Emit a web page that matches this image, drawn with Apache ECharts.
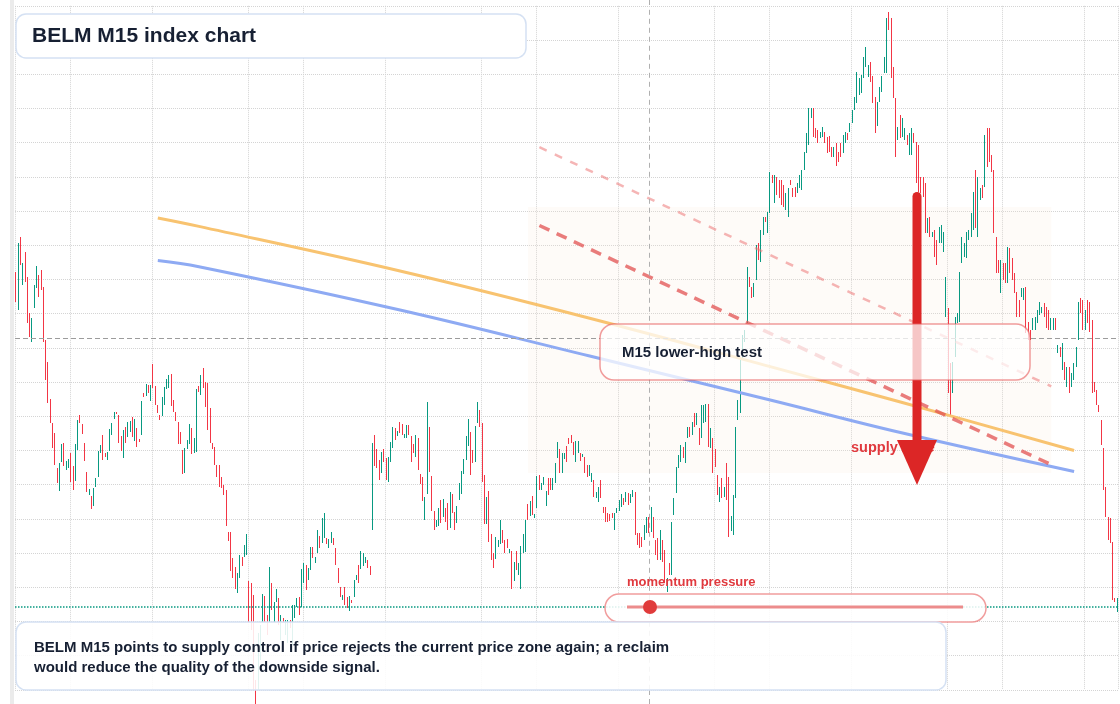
<!DOCTYPE html>
<html><head><meta charset="utf-8">
<script src="https://cdn.jsdelivr.net/npm/echarts@6/dist/echarts.min.js"></script>
<style>html,body{margin:0;padding:0;background:#fff}#chart{width:1120px;height:704px}</style>
</head><body><div id="chart"></div>
<script>
// BELM M15 bars: open / close (wicks coincide with bodies at this zoom)
const opens = [
79.4,75.6,82.9,78.1,81.4,78.9,75.3,72.4,75.8,77.8,
79.1,79.6,77.9,72.6,70.4,66.7,64.3,63.3,59.8,57.5,
60.4,62.3,59.6,59.8,61.3,60.0,58.5,61.6,65.1,64.2,
62.3,59.4,57.1,57.0,56.0,57.9,58.9,61.3,63.1,61.3,
60.6,61.5,63.1,64.7,65.4,65.1,63.0,60.8,63.9,62.9,
63.4,64.9,62.5,63.8,62.7,63.1,67.3,67.0,68.1,66.5,
70.2,68.0,66.1,65.1,65.0,66.1,67.7,67.8,69.2,66.6,
65.4,64.4,63.4,61.6,59.3,61.7,62.2,63.8,61.3,61.4,
68.0,67.1,69.8,68.4,68.3,65.8,62.3,61.9,60.1,60.1,
58.9,58.1,57.6,53.4,53.4,50.8,49.9,47.3,48.8,50.9,
50.9,51.1,48.5,48.3,47.1,38.6,37.6,40.6,44.4,47.0,
45.1,44.4,48.3,44.4,46.4,46.8,42.6,44.8,43.1,42.3,
44.6,42.1,44.8,45.9,46.9,45.9,48.3,50.1,48.6,49.6,
51.9,50.3,51.3,53.0,52.3,52.8,52.8,51.8,52.3,52.8,
51.8,49.8,47.9,46.6,47.9,46.9,45.5,46.6,46.9,48.6,
50.1,49.7,50.0,50.3,50.6,50.0,53.6,63.1,61.7,60.6,
59.3,61.7,60.8,58.4,60.4,61.8,63.8,63.0,64.4,64.2,
62.8,62.8,64.1,63.0,62.2,60.9,62.8,59.2,58.9,54.6,
57.2,63.9,59.0,55.5,53.9,54.0,56.6,54.9,55.8,56.3,
53.8,57.2,55.4,54.3,56.6,57.2,59.2,60.6,62.0,63.4,
61.6,60.4,64.3,65.6,64.3,59.1,54.2,57.5,53.2,51.3,
50.7,51.9,52.2,53.6,52.6,52.7,51.3,51.5,48.5,51.5,
49.1,47.7,51.3,51.4,56.2,55.0,57.0,54.8,55.8,59.1,
57.6,58.1,56.0,58.8,58.8,57.6,58.3,60.8,61.7,59.3,
60.7,62.0,62.8,63.1,62.4,60.4,61.3,61.3,60.9,60.9,
60.1,59.0,58.4,58.6,56.8,56.4,58.6,55.9,55.9,55.3,
55.2,55.3,53.6,55.3,55.5,55.9,56.8,56.4,57.3,56.3,
56.9,57.4,53.3,53.3,52.9,52.6,53.3,54.9,53.4,54.9,
52.6,52.8,50.6,52.6,51.6,47.4,50.3,49.1,55.1,57.3,
59.8,60.4,61.9,60.3,62.8,63.9,63.1,65.3,64.1,63.8,
62.8,64.3,64.4,66.2,61.8,62.8,61.7,59.1,56.4,58.8,
56.9,60.3,58.9,53.5,53.1,56.8,64.6,65.3,70.6,72.4,
74.3,78.9,77.9,76.9,78.6,82.3,80.4,83.1,84.9,83.3,
85.3,89.1,86.3,88.9,88.6,88.6,88.1,85.6,84.9,88.6,
87.8,87.9,87.3,87.8,87.6,89.6,91.3,92.1,94.8,95.8,
93.8,93.6,92.8,92.9,93.4,92.9,93.0,91.9,90.9,92.3,
91.4,92.3,91.3,92.3,93.3,93.4,94.3,95.6,96.3,97.1,
97.3,98.8,99.9,98.9,100.4,99.0,96.9,94.0,96.4,97.4,
99.3,99.3,105.4,104.8,99.9,96.8,92.6,95.1,92.9,92.6,
93.1,91.1,91.1,93.3,92.4,92.1,88.9,88.9,88.3,83.3,
84.9,82.9,83.6,82.6,82.3,82.3,81.4,74.9,75.8,70.3,
67.3,70.9,74.3,74.4,80.3,80.9,80.8,82.6,82.9,83.6,
89.6,82.9,86.6,88.1,87.9,93.8,93.8,91.1,89.6,82.9,
80.6,77.3,80.3,80.3,78.3,81.8,80.8,79.3,77.4,76.6,
76.9,76.6,77.9,74.4,73.6,73.6,73.6,74.3,75.1,75.3,
76.3,75.9,75.6,73.6,73.6,74.8,71.3,71.9,69.6,70.4,
67.9,69.9,67.9,68.6,69.9,72.6,76.8,76.6,73.6,76.6,
76.4,74.6,68.4,67.6,66.1,64.6,61.8,57.9,54.9,54.8,
52.4,46.8,45.4
];
const closes = [
76.4,82.3,80.1,80.3,78.4,74.3,72.9,74.8,78.1,80.0,
76.9,77.6,72.4,68.6,66.3,64.3,61.8,60.1,58.3,60.3,
62.2,60.0,60.5,60.7,58.4,57.6,62.2,64.6,64.3,63.2,
60.5,57.4,57.7,55.7,57.8,58.8,61.5,62.1,60.6,60.9,
61.4,63.7,64.3,65.4,65.2,62.3,61.5,63.6,62.3,64.4,
64.5,62.9,64.7,61.9,62.4,66.5,66.9,68.2,67.3,68.1,
67.8,66.1,65.3,64.6,66.9,67.9,68.7,69.1,66.0,65.4,
64.5,62.2,62.2,59.2,61.8,62.6,64.2,61.2,62.8,67.7,
67.4,69.1,67.8,65.9,63.6,62.3,61.7,60.1,58.9,57.9,
57.8,57.1,54.0,52.5,49.5,48.8,47.7,49.3,51.1,50.0,
52.1,53.2,44.3,43.6,37.6,36.2,43.3,44.1,47.2,44.4,
43.1,49.9,45.6,46.4,47.7,44.1,45.1,44.4,44.6,44.6,
43.8,46.1,46.1,46.8,45.1,49.7,50.3,47.6,49.8,51.9,
50.8,50.9,53.6,51.8,54.8,55.3,52.2,52.7,53.4,52.1,
50.1,48.3,46.9,47.1,46.1,45.8,47.0,46.3,48.6,49.1,
48.3,51.5,51.3,50.9,49.8,49.1,62.3,60.0,59.8,58.6,
61.4,60.4,58.6,60.9,62.4,63.9,62.6,63.5,63.3,63.1,
63.2,64.1,63.1,60.4,61.3,63.1,59.6,58.2,56.5,56.9,
66.4,59.4,55.5,53.6,54.6,55.8,54.3,56.7,54.4,53.6,
57.4,55.3,53.6,56.0,58.3,59.5,60.7,63.0,64.7,59.1,
60.3,64.0,66.4,63.9,58.4,54.2,56.9,52.4,50.6,49.8,
52.9,52.6,54.6,52.3,51.3,51.8,51.7,47.7,50.4,49.6,
50.3,52.0,53.2,54.6,54.6,56.5,55.1,55.2,59.0,57.6,
58.3,58.9,57.5,57.1,57.6,58.8,60.3,62.4,59.3,61.3,
61.3,60.4,62.2,62.3,61.1,62.5,62.5,60.5,61.2,59.3,
58.9,60.1,59.3,56.9,57.4,57.9,56.8,55.3,54.4,54.4,
54.5,54.8,55.3,55.8,56.6,57.2,56.1,57.4,56.1,57.2,
57.6,53.1,52.1,51.8,51.9,54.1,54.9,53.3,55.9,52.8,
51.1,50.6,53.6,50.4,48.3,48.8,49.1,54.4,56.8,59.9,
61.1,62.1,60.8,62.4,63.9,62.9,64.4,63.9,65.3,62.1,
66.1,66.1,66.2,61.9,63.8,59.3,59.9,57.1,57.9,56.8,
57.9,56.6,52.9,55.0,57.1,63.9,66.6,70.6,73.1,73.6,
79.9,77.9,76.8,78.3,82.1,80.6,83.6,84.9,84.4,85.4,
89.4,88.3,89.1,87.1,86.8,86.1,85.9,87.3,87.8,88.1,
86.9,86.9,88.3,89.1,89.6,91.4,93.3,95.8,95.8,92.9,
92.8,92.3,93.4,93.9,92.3,91.3,91.4,90.9,91.9,90.0,
90.4,90.9,93.1,93.4,92.6,94.3,95.6,96.9,99.4,98.8,
99.1,100.9,101.9,100.1,98.4,96.3,93.3,96.4,97.9,99.0,
100.9,104.8,103.6,98.8,96.8,90.9,93.9,92.8,94.8,93.8,
92.1,93.3,93.8,92.3,88.3,87.4,87.3,86.9,83.3,84.8,
82.9,83.4,80.9,80.1,83.9,84.1,83.4,78.9,67.3,64.9,
70.4,74.9,75.3,79.4,82.9,82.3,83.4,83.6,85.3,87.4,
83.8,88.9,87.8,86.8,93.1,89.9,90.4,89.4,83.3,79.3,
79.3,80.6,78.6,78.3,81.9,79.3,78.6,77.3,74.9,74.9,
77.8,77.8,73.3,72.6,72.6,74.8,74.9,75.6,76.4,75.9,
74.9,73.8,73.6,74.8,74.8,73.6,72.1,70.9,72.3,68.6,
69.9,67.3,69.3,70.3,71.9,76.4,75.3,73.6,75.6,74.3,
73.4,67.3,67.4,66.1,65.4,62.1,57.6,54.9,52.6,52.3,
46.6,46.4,46.8
];
// session boundaries (bar index where a new session starts)
const sessionBreaks = [0,24,60,102,126,162,204,228,264,306,330,366,408,432,468];
const refLevel = 72.75;      // grey dashed level
const lastLevel = 45.95;     // teal dotted level
const markerBar = 277;       // dashed vertical marker
const orangeCurve = [[62,84.8],[80,83.96],[168,79.5],[251,74.78],[330,69.94],[387,66.4],[463,61.55]];
const blueCurve   = [[62,80.55],[80,79.93],[168,75.6],[251,71.0],[330,66.6],[387,63.35],[463,59.45]];
const upperTrend  = [[229,91.88],[453,67.96]];
const lowerTrend  = [[229,84.05],[453,60.13]];
const zoneArea    = [[224,85.9],[453,59.3]];
const priceMin = 37.62, priceMax = 106.02, priceStep = 3.42;

const categories = opens.map((_, i) => String(i));
const candles = opens.map((o, i) => [o, closes[i], Math.min(o, closes[i]), Math.max(o, closes[i])]);

const chart = echarts.init(document.getElementById('chart'), null, {renderer: 'canvas'});
const FONT = '"Liberation Sans", Arial, sans-serif';
const dark = '#172033';

chart.setOption({
  animation: false,
  backgroundColor: '#ffffff',
  grid: {left: 15, top: 5.8, width: 483 * 2.285, height: 684},
  xAxis: {
    type: 'category', data: categories, boundaryGap: true,
    axisLine: {show: false}, axisTick: {show: false}, axisLabel: {show: false},
    splitLine: {show: true, interval: (idx) => sessionBreaks.indexOf(idx) >= 0,
      lineStyle: {type: 'dotted', color: '#d4d4d4', width: 1}}
  },
  yAxis: {
    type: 'value', min: priceMin, max: priceMax, interval: priceStep, scale: true,
    axisLine: {show: false}, axisTick: {show: false}, axisLabel: {show: false},
    splitLine: {show: true, lineStyle: {type: 'dotted', color: '#d4d4d4', width: 1}}
  },
  series: [
    {
      type: 'line', data: [], silent: true, z: 1,
      markArea: {silent: true, itemStyle: {color: 'rgba(246,230,214,0.16)'},
        data: [[{xAxis: zoneArea[0][0], yAxis: zoneArea[0][1]}, {xAxis: zoneArea[1][0], yAxis: zoneArea[1][1]}]]}
    },
    {
      type: 'candlestick', data: candles, barWidth: 0.5, z: 2, clip: false,
      itemStyle: {color: '#089981', color0: '#f23645', borderColor: '#089981', borderColor0: '#f23645', borderWidth: 1},
      markLine: {
        silent: true, symbol: 'none', label: {show: false},
        data: [
          {yAxis: refLevel, lineStyle: {type: [5, 3], color: '#9c9c9c', width: 1}},
          {yAxis: lastLevel, lineStyle: {type: 'dotted', color: '#089981', width: 1.5}},
          {xAxis: markerBar, lineStyle: {type: [5, 4], color: '#b0b0b0', width: 1}}
        ]
      }
    },
    {type: 'line', data: orangeCurve, smooth: 0.4, symbol: 'none', z: 3, silent: true,
      lineStyle: {color: '#f8c370', width: 3}},
    {type: 'line', data: blueCurve, smooth: 0.4, symbol: 'none', z: 3, silent: true,
      lineStyle: {color: '#8eaaf3', width: 3}},
    {type: 'line', data: upperTrend, symbol: 'none', z: 3, silent: true,
      lineStyle: {color: 'rgba(236,120,120,0.55)', width: 2.5, type: [8, 9]}},
    {type: 'line', data: lowerTrend, symbol: 'none', z: 3, silent: true,
      lineStyle: {color: 'rgba(226,82,82,0.75)', width: 3.5, type: [11, 8]}}
  ],
  graphic: {elements: [
    {type: 'rect', z: 100, shape: {x: 10, y: 0, width: 4, height: 704}, style: {fill: '#ebebeb'}},
    {type: 'line', z: 1, shape: {x1: 649.5, y1: 0, x2: 649.5, y2: 6}, style: {stroke: '#b0b0b0', lineWidth: 1, lineDash: [5, 4]}},
    {type: 'line', z: 1, shape: {x1: 649.5, y1: 690, x2: 649.5, y2: 704}, style: {stroke: '#b0b0b0', lineWidth: 1, lineDash: [5, 4]}},
    // supply zone label (under arrow)
    {type: 'text', z: 101, style: {text: 'supply zone', x: 851, y: 448, font: 'bold 14.5px ' + FONT, fill: '#e0393e', verticalAlign: 'middle', textVerticalAlign: 'middle'}},
    // arrow
    {type: 'rect', z: 102, shape: {x: 912.5, y: 192, width: 9, height: 252, r: [4.5, 4.5, 0, 0]}, style: {fill: '#dc2626'}},
    {type: 'polygon', z: 102, shape: {points: [[897, 440], [937, 440], [917, 485]]}, style: {fill: '#dc2626'}},
    // lower-high box
    {type: 'rect', z: 103, shape: {x: 600, y: 324, width: 430, height: 56, r: 14}, style: {fill: 'rgba(255,255,255,0.74)', stroke: 'rgba(232,92,92,0.6)', lineWidth: 1.5}},
    {type: 'text', z: 104, style: {text: 'M15 lower-high test', x: 622, y: 353, font: 'bold 15px ' + FONT, fill: dark, verticalAlign: 'middle', textVerticalAlign: 'middle'}},
    // title box
    {type: 'rect', z: 103, shape: {x: 16, y: 14, width: 510, height: 44, r: 10}, style: {fill: '#ffffff', stroke: '#d5e1f3', lineWidth: 1.5}},
    {type: 'text', z: 104, style: {text: 'BELM M15 index chart', x: 32, y: 36, font: 'bold 21px ' + FONT, fill: dark, verticalAlign: 'middle', textVerticalAlign: 'middle'}},
    // momentum pill
    {type: 'text', z: 104, style: {text: 'momentum pressure', x: 627, y: 582, font: 'bold 13px ' + FONT, fill: '#e0393e', verticalAlign: 'middle', textVerticalAlign: 'middle'}},
    {type: 'rect', z: 103, shape: {x: 605, y: 594, width: 381, height: 28, r: 14}, style: {fill: 'rgba(255,255,255,0.86)', stroke: 'rgba(232,92,92,0.6)', lineWidth: 1.5}},
    {type: 'line', z: 104, shape: {x1: 627, y1: 607, x2: 963, y2: 607}, style: {stroke: '#ec8c8c', lineWidth: 3}},
    {type: 'circle', z: 105, shape: {cx: 650, cy: 607, r: 7}, style: {fill: '#e03b3b'}},
    // bottom note
    {type: 'rect', z: 103, shape: {x: 16, y: 622, width: 930, height: 68, r: 10}, style: {fill: 'rgba(255,255,255,0.88)', stroke: '#d5e1f3', lineWidth: 1.5}},
    {type: 'text', z: 104, style: {text: 'BELM M15 points to supply control if price rejects the current price zone again; a reclaim\nwould reduce the quality of the downside signal.', x: 34, y: 638, font: 'bold 15px ' + FONT, lineHeight: 20, fill: dark}}
  ]}
});
</script>
</body></html>
